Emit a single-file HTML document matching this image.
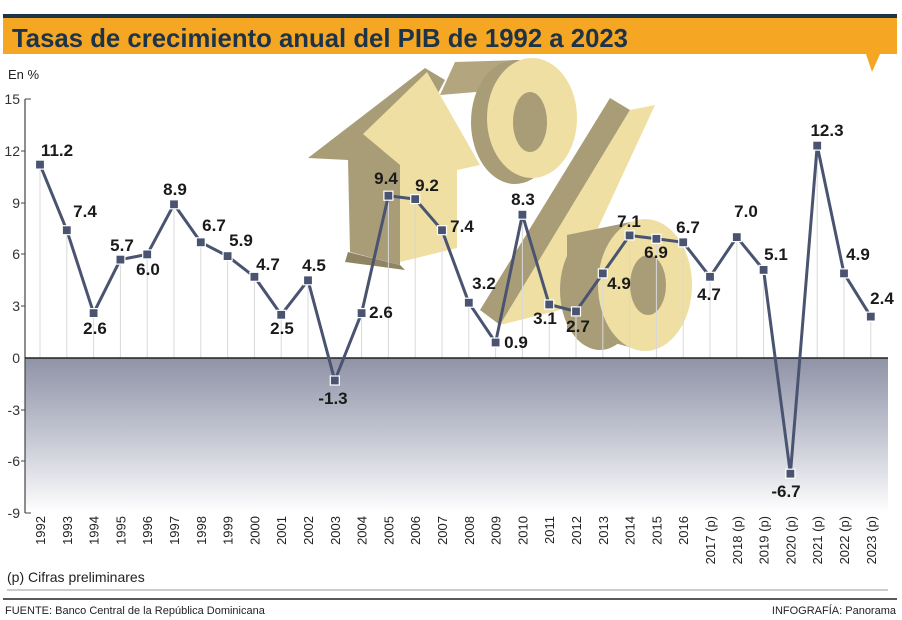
<!DOCTYPE html>
<html><head><meta charset="utf-8"><style>
html,body{margin:0;padding:0;background:#fff;}
svg{display:block;font-family:"Liberation Sans",sans-serif;}
.v{font-size:17px;font-weight:bold;fill:#1a1a1a;text-anchor:middle;}
.t{font-size:14px;fill:#333;text-anchor:end;}
.yr{font-size:13px;fill:#222;text-anchor:end;}
</style></head><body>
<svg width="902" height="620" viewBox="0 0 902 620">
<defs>
<linearGradient id="neg" x1="0" y1="0" x2="0" y2="1">
<stop offset="0" stop-color="#8f93a6"/><stop offset="0.5" stop-color="#c4c6d2"/><stop offset="1" stop-color="#ffffff"/>
</linearGradient>
</defs>
<!-- header -->
<rect x="3" y="14" width="894" height="4" fill="#1d3448"/>
<rect x="3" y="18" width="894" height="36" fill="#f5a623"/>
<polygon points="866,54 880,54 872,72" fill="#f5a623"/>
<text x="12" y="47" font-size="26" font-weight="bold" fill="#1d3448" textLength="616" lengthAdjust="spacingAndGlyphs">Tasas de crecimiento anual del PIB de 1992 a 2023</text>
<text x="8" y="79" font-size="13" fill="#222">En %</text>

<!-- 3D 1% graphic -->
<g>
<polygon points="308,158 425,68 445,80 400,165 400,265 350,252 348,160" fill="#a99d78"/>
<polygon points="348,252 400,265 405,270 345,262" fill="#8f8463"/>
<polygon points="363,134 427,72 480,165 457,170 457,248 400,262 400,165" fill="#efdfa3"/>
<polygon points="440,95 455,62 520,60 500,90" fill="#b3a67f"/>
<polygon points="480,310 500,325 630,110 610,98" fill="#a99d78"/>
<polygon points="500,325 560,310 655,105 630,110" fill="#efdfa3"/>
<ellipse cx="515" cy="122" rx="44" ry="62" fill="#a99d78"/>
<ellipse cx="532" cy="118" rx="45" ry="60" fill="#efdfa3"/>
<ellipse cx="530" cy="122" rx="17" ry="30" fill="#a99d78"/>
<polygon points="567,235 640,220 640,350 567,330" fill="#a99d78"/>
<ellipse cx="600" cy="290" rx="40" ry="60" fill="#a99d78"/>
<ellipse cx="645" cy="285" rx="47" ry="66" fill="#efdfa3"/>
<ellipse cx="648" cy="285" rx="18" ry="30" fill="#a99d78"/>
</g>

<!-- negative area -->
<rect x="25" y="358" width="863" height="155" fill="url(#neg)"/>

<!-- gridlines -->
<g stroke="#d8d8d8" stroke-width="1">
<line x1="40" y1="165" x2="40" y2="358"/><line x1="66.8" y1="230" x2="66.8" y2="358"/><line x1="93.6" y1="313" x2="93.6" y2="358"/><line x1="120.4" y1="260" x2="120.4" y2="358"/><line x1="147.2" y1="254" x2="147.2" y2="358"/><line x1="174" y1="204" x2="174" y2="358"/><line x1="200.8" y1="242" x2="200.8" y2="358"/><line x1="227.6" y1="256" x2="227.6" y2="358"/><line x1="254.4" y1="277" x2="254.4" y2="358"/><line x1="281.2" y1="315" x2="281.2" y2="358"/><line x1="308" y1="280" x2="308" y2="358"/><line x1="361.6" y1="313" x2="361.6" y2="358"/><line x1="388.4" y1="196" x2="388.4" y2="358"/><line x1="415.2" y1="199" x2="415.2" y2="358"/><line x1="442" y1="230" x2="442" y2="358"/><line x1="468.8" y1="303" x2="468.8" y2="358"/><line x1="495.6" y1="342" x2="495.6" y2="358"/><line x1="522.4" y1="215" x2="522.4" y2="358"/><line x1="549.2" y1="304" x2="549.2" y2="358"/><line x1="576" y1="311" x2="576" y2="358"/><line x1="602.8" y1="273" x2="602.8" y2="358"/><line x1="629.6" y1="235" x2="629.6" y2="358"/><line x1="656.4" y1="239" x2="656.4" y2="358"/><line x1="683.2" y1="242" x2="683.2" y2="358"/><line x1="710" y1="277" x2="710" y2="358"/><line x1="736.8" y1="237" x2="736.8" y2="358"/><line x1="763.6" y1="270" x2="763.6" y2="358"/><line x1="817.2" y1="146" x2="817.2" y2="358"/><line x1="844" y1="273" x2="844" y2="358"/><line x1="870.8" y1="317" x2="870.8" y2="358"/>
</g>
<!-- axes -->
<line x1="25" y1="99" x2="25" y2="513" stroke="#444" stroke-width="1.2"/>
<line x1="25" y1="99" x2="31" y2="99" stroke="#444"/>
<g stroke="#444"><line x1="21" y1="151" x2="25" y2="151"/><line x1="21" y1="203" x2="25" y2="203"/><line x1="21" y1="254" x2="25" y2="254"/><line x1="21" y1="306" x2="25" y2="306"/><line x1="21" y1="410" x2="25" y2="410"/><line x1="21" y1="461" x2="25" y2="461"/><line x1="25" y1="513" x2="31" y2="513"/></g>
<line x1="25" y1="358" x2="888" y2="358" stroke="#222" stroke-width="1.5"/>
<g class="t"><text x="20" y="104">15</text><text x="20" y="156">12</text><text x="20" y="208">9</text><text x="20" y="259">6</text><text x="20" y="311">3</text><text x="20" y="363">0</text><text x="20" y="415">-3</text><text x="20" y="466">-6</text><text x="20" y="518">-9</text></g>

<!-- series -->
<polyline fill="none" stroke="#4a5470" stroke-width="3" stroke-linejoin="round" points="40,164.6 66.8,230.2 93.6,313.1 120.4,259.6 147.2,254.4 174,204.3 200.8,242.3 227.6,256.1 254.4,276.8 281.2,314.8 308,280.3 334.8,380.5 361.6,313.1 388.4,195.7 415.2,199.1 442,230.2 468.8,302.7 495.6,342.5 522.4,214.7 549.2,304.5 576,311.4 602.8,273.4 629.6,235.4 656.4,238.8 683.2,242.3 710,276.8 736.8,237.1 763.6,269.9 790.4,473.7 817.2,145.6 844,273.4 870.8,316.6"/>
<g fill="#4a5470" stroke="#fff" stroke-width="1.2">
<rect x="35.5" y="160.1" width="9" height="9"/><rect x="62.3" y="225.7" width="9" height="9"/><rect x="89.1" y="308.6" width="9" height="9"/><rect x="115.9" y="255.1" width="9" height="9"/><rect x="142.7" y="249.9" width="9" height="9"/><rect x="169.5" y="199.8" width="9" height="9"/><rect x="196.3" y="237.8" width="9" height="9"/><rect x="223.1" y="251.6" width="9" height="9"/><rect x="249.9" y="272.3" width="9" height="9"/><rect x="276.7" y="310.3" width="9" height="9"/><rect x="303.5" y="275.8" width="9" height="9"/><rect x="330.3" y="376" width="9" height="9"/><rect x="357.1" y="308.6" width="9" height="9"/><rect x="383.9" y="191.2" width="9" height="9"/><rect x="410.7" y="194.6" width="9" height="9"/><rect x="437.5" y="225.7" width="9" height="9"/><rect x="464.3" y="298.2" width="9" height="9"/><rect x="491.1" y="338" width="9" height="9"/><rect x="517.9" y="210.2" width="9" height="9"/><rect x="544.7" y="300" width="9" height="9"/><rect x="571.5" y="306.9" width="9" height="9"/><rect x="598.3" y="268.9" width="9" height="9"/><rect x="625.1" y="230.9" width="9" height="9"/><rect x="651.9" y="234.3" width="9" height="9"/><rect x="678.7" y="237.8" width="9" height="9"/><rect x="705.5" y="272.3" width="9" height="9"/><rect x="732.3" y="232.6" width="9" height="9"/><rect x="759.1" y="265.4" width="9" height="9"/><rect x="785.9" y="469.2" width="9" height="9"/><rect x="812.7" y="141.1" width="9" height="9"/><rect x="839.5" y="268.9" width="9" height="9"/><rect x="866.3" y="312.1" width="9" height="9"/>
</g>
<g class="v">
<text x="57" y="156">11.2</text><text x="85" y="217">7.4</text><text x="95" y="334">2.6</text><text x="122" y="251">5.7</text><text x="148" y="275">6.0</text><text x="175" y="195">8.9</text><text x="214" y="231">6.7</text><text x="241" y="246">5.9</text><text x="268" y="270">4.7</text><text x="282" y="334">2.5</text><text x="314" y="271">4.5</text><text x="333" y="404">-1.3</text><text x="381" y="318">2.6</text><text x="386" y="184">9.4</text><text x="427" y="191">9.2</text><text x="462" y="232">7.4</text><text x="484" y="289">3.2</text><text x="516" y="348">0.9</text><text x="523" y="205">8.3</text><text x="545" y="324">3.1</text><text x="578" y="332">2.7</text><text x="619" y="289">4.9</text><text x="629" y="227">7.1</text><text x="656" y="258">6.9</text><text x="688" y="233">6.7</text><text x="709" y="300">4.7</text><text x="746" y="217">7.0</text><text x="776" y="260">5.1</text><text x="786" y="497">-6.7</text><text x="827" y="136">12.3</text><text x="858" y="260">4.9</text><text x="882" y="304">2.4</text>
</g>

<!-- year labels -->
<g class="yr">
<text transform="translate(45,516) rotate(-90)">1992</text><text transform="translate(71.8,516) rotate(-90)">1993</text><text transform="translate(98.6,516) rotate(-90)">1994</text><text transform="translate(125.4,516) rotate(-90)">1995</text><text transform="translate(152.2,516) rotate(-90)">1996</text><text transform="translate(179,516) rotate(-90)">1997</text><text transform="translate(205.8,516) rotate(-90)">1998</text><text transform="translate(232.6,516) rotate(-90)">1999</text><text transform="translate(259.4,516) rotate(-90)">2000</text><text transform="translate(286.2,516) rotate(-90)">2001</text><text transform="translate(313,516) rotate(-90)">2002</text><text transform="translate(339.8,516) rotate(-90)">2003</text><text transform="translate(366.6,516) rotate(-90)">2004</text><text transform="translate(393.4,516) rotate(-90)">2005</text><text transform="translate(420.2,516) rotate(-90)">2006</text><text transform="translate(447,516) rotate(-90)">2007</text><text transform="translate(473.8,516) rotate(-90)">2008</text><text transform="translate(500.6,516) rotate(-90)">2009</text><text transform="translate(527.4,516) rotate(-90)">2010</text><text transform="translate(554.2,516) rotate(-90)">2011</text><text transform="translate(581,516) rotate(-90)">2012</text><text transform="translate(607.8,516) rotate(-90)">2013</text><text transform="translate(634.6,516) rotate(-90)">2014</text><text transform="translate(661.4,516) rotate(-90)">2015</text><text transform="translate(688.2,516) rotate(-90)">2016</text><text transform="translate(715,516) rotate(-90)">2017 (p)</text><text transform="translate(741.8,516) rotate(-90)">2018 (p)</text><text transform="translate(768.6,516) rotate(-90)">2019 (p)</text><text transform="translate(795.4,516) rotate(-90)">2020 (p)</text><text transform="translate(822.2,516) rotate(-90)">2021 (p)</text><text transform="translate(849,516) rotate(-90)">2022 (p)</text><text transform="translate(875.8,516) rotate(-90)">2023 (p)</text>
</g>

<text x="7" y="582" font-size="14" fill="#222">(p) Cifras preliminares</text>
<line x1="7" y1="590" x2="888" y2="590" stroke="#999" stroke-width="1"/>
<line x1="3" y1="599" x2="897" y2="599" stroke="#222" stroke-width="1.5"/>
<text x="5" y="614" font-size="11" fill="#222">FUENTE: Banco Central de la República Dominicana</text>
<text x="896" y="614" font-size="11" fill="#222" text-anchor="end">INFOGRAFÍA: Panorama</text>
</svg>
</body></html>
